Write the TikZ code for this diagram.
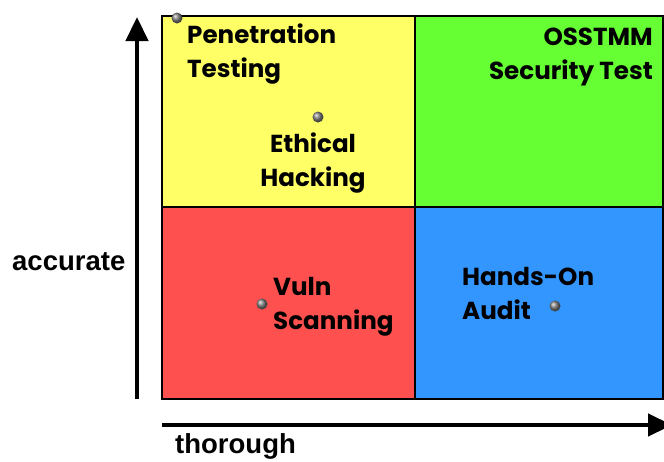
\documentclass[tikz,border=0pt]{standalone}
\usepackage{fontspec}
\setmainfont{Liberation Sans}
\newfontfamily\quadfont{Poppins}
\usetikzlibrary{arrows.meta}

\definecolor{pentestcol}{RGB}{255,255,102}
\definecolor{osstmmcol}{RGB}{102,255,51}
\definecolor{vulncol}{RGB}{255,80,80}
\definecolor{auditcol}{RGB}{51,150,255}

\tikzset{
  quadlabel/.style={inner sep=0pt, align=left,
    font=\quadfont\bfseries\fontsize{24.6}{34}\selectfont},
  axislabel/.style={inner sep=0pt, font=\bfseries\fontsize{27.5}{30}\selectfont},
  marker/.style={circle, inner sep=0pt, minimum size=11pt,
    shading=ball, ball color=gray},
  axis/.style={line width=4.5pt, -{Triangle[width=22pt,length=24pt]}},
}

\begin{document}
\begin{tikzpicture}[x=1pt, y=-1pt]

\newcommand\QL{162};
\newcommand\QM{415};
\newcommand\QR{663};
\newcommand\QT{16};
\newcommand\QC{207};
\newcommand\QB{399};

\useasboundingbox (0,0) rectangle (664,461); %% margins

%% quadrants
\draw[fill=pentestcol, line width=2.5pt](\QL,\QT) rectangle (\QM,\QC);
\draw[fill=osstmmcol, line width=2.5pt](\QM,\QT) rectangle (\QR,\QC);
\draw[fill=vulncol, line width=2.5pt](\QL,\QC) rectangle (\QM,\QB);
\draw[fill=auditcol, line width=2.5pt](\QM,\QC) rectangle (\QR,\QB);

%% axes
\coordinate (yfoot) at (137,\QB);
\coordinate (ytip) at (137,17);
\coordinate (xfoot) at (\QL,425);
\coordinate (xtip) at (672,425);
\draw[axis](yfoot)--(ytip);
\draw[axis](xfoot)--(xtip);

\node[axislabel, anchor=base west] (acclabel) at (12,270) {accurate};
\node[axislabel, anchor=base west] (thorlabel) at (175,453) {thorough};

%% methods
\node[quadlabel, anchor=north west] (pentext) at (187,24) {Penetration\\Testing};
\node[quadlabel, anchor=north, align=center] (ethtext) at (313,133) {Ethical\\Hacking};
\node[quadlabel, anchor=north east, align=right] (osstext) at (653,28) {OSSTMM\\Security Test};
\node[quadlabel, anchor=north west] (vulntext) at (273,277) {Vuln\\Scanning};
\node[quadlabel, anchor=north west] (audittext) at (462,267) {Hands-On\\Audit};

\node[marker] (pendot) at (177,18) {};
\node[marker] (ethdot) at (318,117) {};
\node[marker] (vulndot) at (262,304) {};
\node[marker] (auditdot) at (555,306) {};

\end{tikzpicture}
\end{document}
